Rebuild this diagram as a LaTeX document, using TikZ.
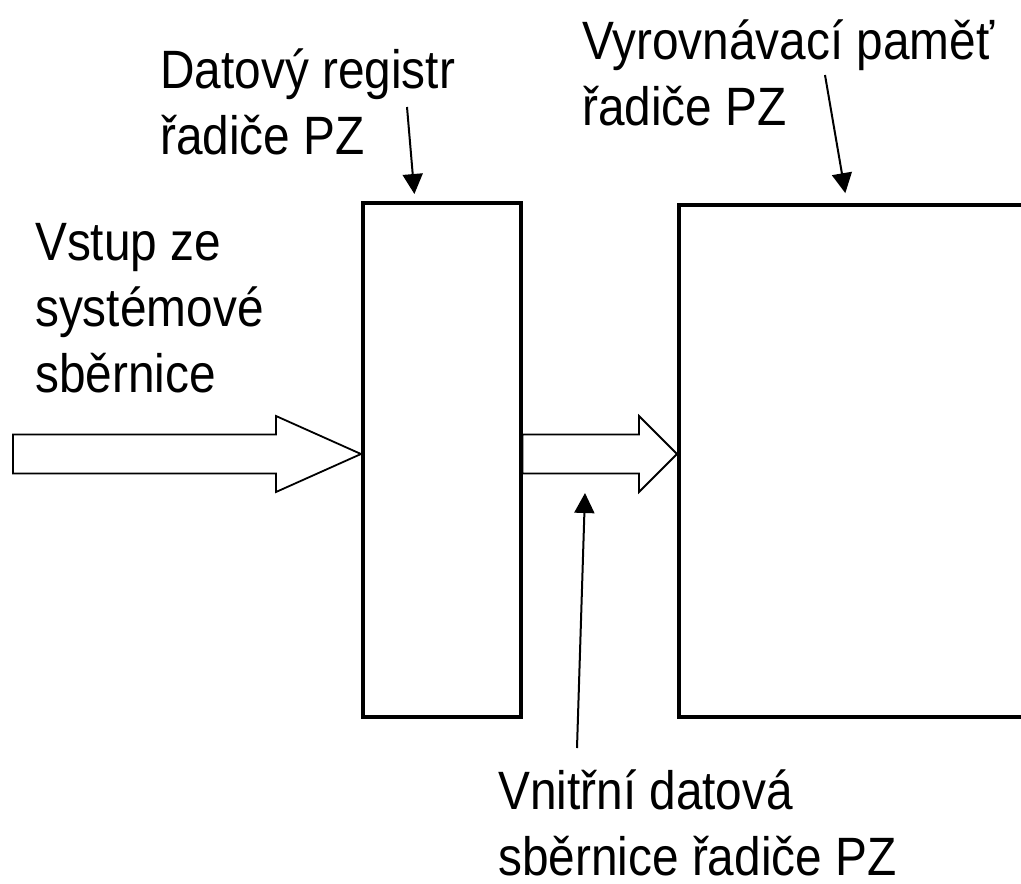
\documentclass[tikz,border=0pt]{standalone}
\usepackage{fontspec}
\setmainfont[FakeStretch=0.885]{Liberation Sans}
\usetikzlibrary{arrows.meta,calc}
\tikzset{
  blk/.style={draw,line width=3.5pt,anchor=north west,inner sep=0pt},
  lab/.style={font=\fontsize{54}{66}\selectfont,align=left,anchor=base west,inner sep=0pt},
  ptr/.style={-{Triangle[length=20pt,width=20pt]},line width=2pt},
  bus/.style={draw,line width=1.8pt,line join=miter},
}
% wide arrow: tail, tip, head length
\newcommand\busarrow[3]{%
  \draw[bus] let \p1=(#1),\p2=(#2) in
    (\x1,\y2+19.5pt) -- (\x2-#3,\y2+19.5pt) -- (\x2-#3,\y2+38pt) -- (\x2,\y2)
    -- (\x2-#3,\y2-38pt) -- (\x2-#3,\y2-19.5pt) -- (\x1,\y2-19.5pt) -- cycle;}

\begin{document}
\begin{tikzpicture}[x=1pt,y=-1pt]
  \useasboundingbox (0,0) rectangle (1021,884);
  \clip (0,0) rectangle (1021,884);
  \node[blk,minimum width=158,minimum height=514] (reg) at (361,201) {};
  \node[blk,minimum width=420,minimum height=512] (mem) at (677,203) {};

  % labels sit on their last baseline
  \node[lab] (reglab) at (160,154) {Datový registr\\řadiče PZ};
  \node[lab] (memlab) at (582,125) {Vyrovnávací paměť\\řadiče PZ};
  \node[lab] (inlab) at (35,392) {Vstup ze\\systémové\\sběrnice};
  \node[lab] (buslab) at (498,875) {Vnitřní datová\\sběrnice řadiče PZ};

  \coordinate (busin) at (13,454);
  \busarrow{busin}{reg.west |- busin}{85pt}
  \busarrow{reg.east |- busin}{mem.west |- busin}{38pt}

  \coordinate (regfrom) at (407,107);
  \coordinate (memfrom) at (825,75);
  \coordinate (busfrom) at (577,748);
  \coordinate (busto) at (585,493);
  \draw[ptr,shorten >=7pt] (regfrom) -- ([xshift=54pt]reg.north west);
  \draw[ptr,shorten >=10pt] (memfrom) -- ([xshift=170pt]mem.north west);
  \draw[ptr] (busfrom) -- (busto);
\end{tikzpicture}
\end{document}
